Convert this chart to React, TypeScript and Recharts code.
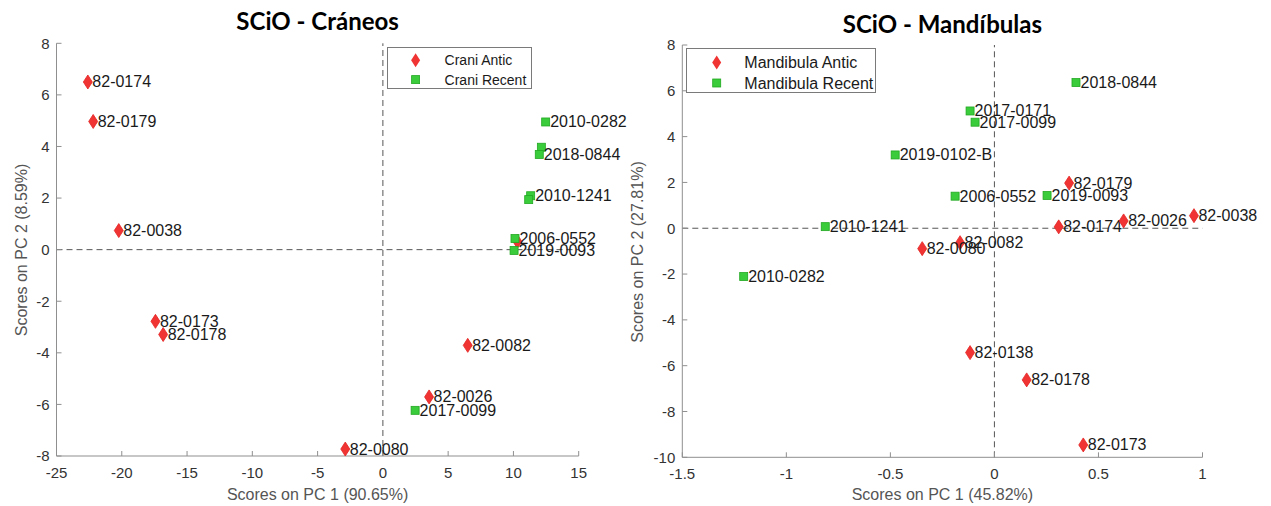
import React from "react";
import { ScatterChart, Scatter, XAxis, YAxis, ReferenceLine } from "recharts";

// ---- SCiO - Cráneos ----
const CRANI_ANTIC_X = [-22.6, -22.19, -20.23, -17.42, -16.83, 6.5, 3.54, -2.88, 10.3];
const CRANI_ANTIC_Y = [6.5, 4.97, 0.74, -2.78, -3.29, -3.71, -5.71, -7.73, 0.32];
const CRANI_ANTIC_LABELS = ["82-0174", "82-0179", "82-0038", "82-0173", "82-0178", "82-0082", "82-0026", "82-0080", ""];

const CRANI_RECENT_X = [12.47, 12.14, 11.98, 11.32, 11.17, 10.12, 10.05, 2.47];
const CRANI_RECENT_Y = [4.95, 3.97, 3.69, 2.09, 1.94, 0.43, -0.03, -6.23];
const CRANI_RECENT_LABELS = ["2010-0282", "", "2018-0844", "2010-1241", "", "2006-0552", "2019-0093", "2017-0099"];

const CRANI_X_TICKS = [-25, -20, -15, -10, -5, 0, 5, 10, 15];
const CRANI_Y_TICKS = [-8, -6, -4, -2, 0, 2, 4, 6, 8];

// ---- SCiO - Mandíbulas ----
const MAND_ANTIC_X = [0.359, 0.309, 0.621, 0.959, -0.165, -0.347, -0.117, 0.155, 0.427];
const MAND_ANTIC_Y = [1.97, 0.06, 0.32, 0.55, -0.63, -0.89, -5.43, -6.62, -9.46];
const MAND_ANTIC_LABELS = ["82-0179", "82-0174", "82-0026", "82-0038", "82-0082", "82-0080", "82-0138", "82-0178", "82-0173"];

const MAND_RECENT_X = [0.392, -0.117, -0.093, -0.477, -0.189, 0.253, -0.813, -1.205];
const MAND_RECENT_Y = [6.36, 5.12, 4.63, 3.2, 1.4, 1.43, 0.07, -2.11];
const MAND_RECENT_LABELS = ["2018-0844", "2017-0171", "2017-0099", "2019-0102-B", "2006-0552", "2019-0093", "2010-1241", "2010-0282"];

const MAND_X_TICKS = [-1.5, -1, -0.5, 0, 0.5, 1];
const MAND_Y_TICKS = [-10, -8, -6, -4, -2, 0, 2, 4, 6, 8];

const FONT = "'Liberation Sans', Arial, sans-serif";
const RED = "#f03434";
const GREEN = "#3acc3a";
const FRAME = "#8f8f8f";

const toPoints = (xs: number[], ys: number[], labels: string[]) =>
  xs.map((x, i) => ({ x, y: ys[i], label: labels[i] }));

function PointLabel({ x, y, text }: { x: number; y: number; text: string }) {
  if (!text) return null;
  return (
    <text x={x + 4.5} y={y} dominantBaseline="central" fontFamily={FONT} fontSize={16} fill="#1a1a1a">
      {text}
    </text>
  );
}

function DiamondMark(props: any) {
  const { cx, cy, payload } = props;
  if (cx == null || cy == null) return null;
  return (
    <g>
      <polygon
        points={`${cx},${cy - 7} ${cx + 4.5},${cy} ${cx},${cy + 7} ${cx - 4.5},${cy}`}
        fill={RED}
        stroke="#e52222"
        strokeWidth={0.8}
      />
      <PointLabel x={cx} y={cy} text={payload.label} />
    </g>
  );
}

function SquareMark(props: any) {
  const { cx, cy, payload } = props;
  if (cx == null || cy == null) return null;
  return (
    <g>
      <rect x={cx - 4} y={cy - 4} width={8} height={8} fill={GREEN} stroke="#22a822" strokeWidth={0.8} />
      <PointLabel x={cx} y={cy} text={payload.label} />
    </g>
  );
}

// legend box drawn like MATLAB's: marker column then text column
function LegendBox({ left, top, anticName, recentName, fontSize, width, height, r1, r2, markX, textLeft }: any) {
  return (
    <svg
      width={width}
      height={height}
      style={{ position: "absolute", left, top, background: "#fff", border: "1px solid #7a7a7a", boxSizing: "border-box" }}
    >
      <polygon points={`${markX},${r1 - 7} ${markX + 4.5},${r1} ${markX},${r1 + 7} ${markX - 4.5},${r1}`} fill={RED} />
      <rect x={markX - 4} y={r2 - 4} width={8} height={8} fill={GREEN} stroke="#22a822" strokeWidth={0.8} />
      <text x={textLeft} y={r1} dominantBaseline="central" fontFamily={FONT} fontSize={fontSize} fill="#1a1a1a">
        {anticName}
      </text>
      <text x={textLeft} y={r2} dominantBaseline="central" fontFamily={FONT} fontSize={fontSize} fill="#1a1a1a">
        {recentName}
      </text>
    </svg>
  );
}

function Panel(props: any) {
  const {
    width, plotLeft, plotRight, plotTop, plotBottom,
    xDomain, yDomain, xTicks, yTicks, antic, recent, xLabel,
  } = props;
  const axisText = { fill: "#333", fontSize: 15, fontFamily: FONT };
  return (
    <ScatterChart
      width={width}
      height={506}
      margin={{ top: plotTop, right: width - plotRight, bottom: 0, left: 0 }}
    >
      <XAxis
        type="number"
        dataKey="x"
        domain={xDomain}
        ticks={xTicks}
        height={506 - plotBottom}
        tickSize={-5}
        tickMargin={16}
        stroke={FRAME}
        tick={axisText}
        label={{ value: xLabel, position: "insideBottom", offset: 6, fill: "#555", fontSize: 16, fontFamily: FONT }}
      />
      <XAxis
        xAxisId="top"
        orientation="top"
        type="number"
        domain={xDomain}
        ticks={xTicks}
        height={0}
        tickSize={-5}
        stroke={FRAME}
        tickFormatter={() => ""}
      />
      <YAxis
        type="number"
        dataKey="y"
        domain={yDomain}
        ticks={yTicks}
        width={plotLeft}
        tickSize={-5}
        tickMargin={12}
        stroke={FRAME}
        tick={axisText}
      />
      <YAxis
        yAxisId="right"
        orientation="right"
        type="number"
        domain={yDomain}
        ticks={yTicks}
        width={0}
        tickSize={-5}
        stroke={FRAME}
        tickFormatter={() => ""}
      />
      <ReferenceLine x={0} stroke="#555" strokeDasharray="6 4" />
      <ReferenceLine y={0} stroke="#555" strokeDasharray="6 4" />
      <Scatter data={antic} shape={DiamondMark} isAnimationActive={false} />
      <Scatter data={recent} shape={SquareMark} isAnimationActive={false} />
    </ScatterChart>
  );
}

const titleStyle: React.CSSProperties = {
  position: "absolute",
  fontFamily: "Lato, 'Open Sans', sans-serif",
  fontWeight: 700,
  fontSize: 24,
  lineHeight: "29px",
  color: "#000",
  transform: "translateX(-50%)",
  whiteSpace: "nowrap",
};

const yLabelStyle: React.CSSProperties = {
  position: "absolute",
  fontFamily: FONT,
  fontSize: 16,
  color: "#555",
  whiteSpace: "nowrap",
  transform: "translate(-50%, -50%) rotate(-90deg)",
};

export default function App() {
  const cAntic = toPoints(CRANI_ANTIC_X, CRANI_ANTIC_Y, CRANI_ANTIC_LABELS);
  const cRecent = toPoints(CRANI_RECENT_X, CRANI_RECENT_Y, CRANI_RECENT_LABELS);
  const mAntic = toPoints(MAND_ANTIC_X, MAND_ANTIC_Y, MAND_ANTIC_LABELS);
  const mRecent = toPoints(MAND_RECENT_X, MAND_RECENT_Y, MAND_RECENT_LABELS);

  return (
    <div style={{ position: "absolute", left: 0, top: 0, width: 1271, height: 506, background: "#fff", overflow: "hidden" }}>
      <div style={{ position: "absolute", left: 0, top: 0 }}>
        <Panel
          width={630}
          plotLeft={56.5}
          plotRight={578.7}
          plotTop={43.3}
          plotBottom={456}
          xDomain={[-25, 15]}
          yDomain={[-8, 8]}
          xTicks={CRANI_X_TICKS}
          yTicks={CRANI_Y_TICKS}
          antic={cAntic}
          recent={cRecent}
          xLabel="Scores on PC 1 (90.65%)"
        />
      </div>
      <div style={{ position: "absolute", left: 630, top: 0 }}>
        <Panel
          width={641}
          plotLeft={52.3}
          plotRight={572.5}
          plotTop={45}
          plotBottom={457.3}
          xDomain={[-1.5, 1]}
          yDomain={[-10, 8]}
          xTicks={MAND_X_TICKS}
          yTicks={MAND_Y_TICKS}
          antic={mAntic}
          recent={mRecent}
          xLabel="Scores on PC 1 (45.82%)"
        />
      </div>
      <LegendBox left={386.7} top={46.7} width={145} height={42.3} fontSize={14} r1={12.3} r2={31.6} markX={27.6} textLeft={56.6} anticName="Crani Antic" recentName="Crani Recent" />
      <LegendBox left={686} top={48.3} width={190} height={45} fontSize={16} r1={13.4} r2={34} markX={29.7} textLeft={57.3} anticName="Mandibula Antic" recentName="Mandibula Recent" />
      <div style={{ ...titleStyle, left: 317.6, top: 6 }}>SCiO - Cráneos</div>
      <div style={{ ...titleStyle, left: 942.4, top: 9 }}>SCiO - Mandíbulas</div>
      <div style={{ ...yLabelStyle, left: 21.7, top: 250.3 }}>Scores on PC 2 (8.59%)</div>
      <div style={{ ...yLabelStyle, left: 638.3, top: 251.7 }}>Scores on PC 2 (27.81%)</div>
    </div>
  );
}
